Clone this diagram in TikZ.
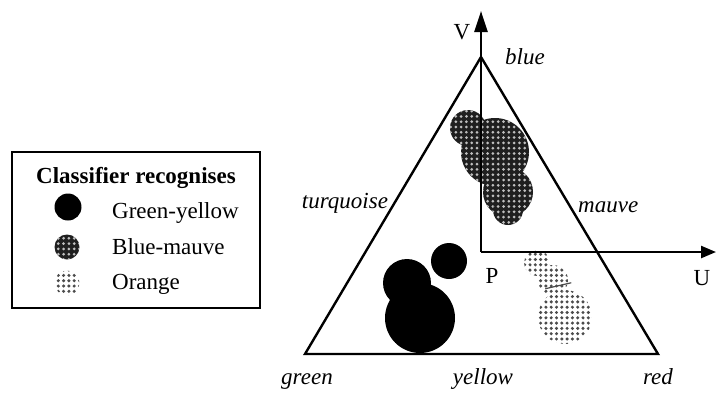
\documentclass[tikz,border=0pt]{standalone}
\usepackage{fontspec}
\setmainfont{Liberation Serif}
\usetikzlibrary{arrows.meta,patterns.meta}

\begin{document}
\begin{tikzpicture}[x=1pt,y=-1pt,
  lbl/.style={font=\fontsize{23}{27}\selectfont, inner sep=0pt},
  ital/.style={lbl, font=\fontsize{23}{27}\selectfont\itshape},
  edge/.style={line width=2.4pt, line join=miter},
  blob/.style={circle, inner sep=0pt, minimum size=#1},
  greenblob/.style={blob=#1, fill=black},
  mauveblob/.style={blob=#1, fill=black!88,
    postaction={pattern={Dots[distance=5.3pt,radius=1.5pt]}, pattern color=white!75!black}},
  orangeblob/.style={blob=#1, fill=white,
    postaction={pattern={Dots[distance=5.3pt,radius=1.7pt]}, pattern color=black!70}},
]
\useasboundingbox (0,0) rectangle (716,392);

% corners of the colour triangle and the origin of the U-V axes
\coordinate (blue) at (481,57);
\coordinate (green) at (305,354);
\coordinate (red) at (658,354);
\coordinate (P) at (481,252);
\coordinate (Vtip) at (481,11);
\coordinate (Utip) at (716,252);

% orange cluster
\node[orangeblob=54pt] (o3) at (565,317) {};
\node[orangeblob=30pt] (o2) at (553,280) {};
\node[orangeblob=26pt] (o1) at (537,263) {};
\draw[line width=1.2pt, black!70] (o2.south west) ++(3,-2) -- ++(26,-6);

% blue-mauve cluster
\node[mauveblob=36pt] (m1) at (468,128) {};
\node[mauveblob=68pt] (m2) at (495,152) {};
\node[mauveblob=50pt] (m3) at (508,192) {};
\node[mauveblob=30pt] (m4) at (508,210) {};

% green-yellow cluster
\node[greenblob=36pt] (g1) at (449,261) {};
\node[greenblob=48pt] (g2) at (407,283) {};
\node[greenblob=70pt] (g3) at (420,318) {};

% triangle
\draw[edge] (blue) -- (red) -- (green) -- cycle;

% axes
\draw[edge, -{Triangle[length=21pt,width=13pt]}] (P) -- (Vtip);
\draw[edge, -{Triangle[length=15pt,width=12pt]}] (P) -- (Utip);

% axis labels
\node[lbl, anchor=base] (Vl) at (462,39) {V};
\node[lbl, anchor=base] (Ul) at (702,285) {U};
\node[lbl, anchor=base] (Pl) at (492,283) {P};

% colour names
\node[ital, anchor=base] (lblue) at (525,64) {blue};
\node[ital, anchor=base] (lturq) at (345,208) {turquoise};
\node[ital, anchor=base west] (lmauve) at (578,212) {mauve};
\node[ital, anchor=base] (lgreen) at (307,384) {green};
\node[ital, anchor=base] (lyellow) at (483,384) {yellow};
\node[ital, anchor=base] (lred) at (658,384) {red};

% legend
\node[draw, line width=1.8pt, inner sep=0pt, minimum width=248pt, minimum height=156pt] (legend) at (136,230) {};
\node[lbl, anchor=base, font=\fontsize{23}{27}\selectfont\bfseries] (ltitle) at (136,183) {Classifier recognises};
\node[greenblob=27pt] (k1) at (68,207) {};
\node[mauveblob=25pt] (k2) at (67,247) {};
\node[orangeblob=25pt] (k3) at (67,283) {};
\node[lbl, anchor=base west] (t1) at (112,218) {Green-yellow};
\node[lbl, anchor=base west] (t2) at (112,254) {Blue-mauve};
\node[lbl, anchor=base west] (t3) at (112,289) {Orange};
\end{tikzpicture}
\end{document}
